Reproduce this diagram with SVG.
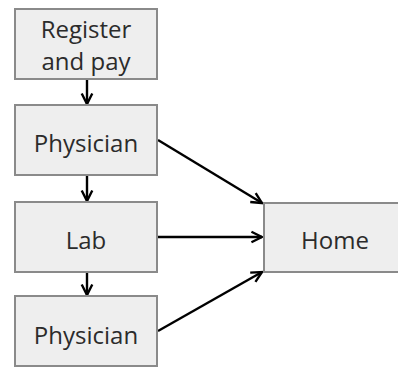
<svg xmlns="http://www.w3.org/2000/svg" width="398" height="367" viewBox="0 0 398 367">
  <style>
    .box { fill: #eeeeee; stroke: #8a8a8a; stroke-width: 2; }
    .lbl { font-family: "Open Sans", Lato, "Liberation Sans", sans-serif; font-size: 24px; fill: #2b2b2b; text-anchor: middle; }
    .edge { stroke: #000; stroke-width: 2.4; fill: none; marker-end: url(#arrow); }
  </style>
  <defs>
    <marker id="arrow" viewBox="0 0 10 10" refX="9" refY="5" markerWidth="5.5" markerHeight="5.5" markerUnits="strokeWidth" orient="auto">
      <path d="M1,1 L9,5 L1,9" fill="none" stroke="#000" stroke-width="1.8"/>
    </marker>
  </defs>

  <g id="connectors">
    <line class="edge" x1="87" y1="79" x2="87" y2="104"/>
    <line class="edge" x1="87" y1="175" x2="87" y2="201"/>
    <line class="edge" x1="87" y1="272" x2="87" y2="295"/>
    <line class="edge" x1="158" y1="140" x2="262" y2="203"/>
    <line class="edge" x1="158" y1="237" x2="262" y2="237"/>
    <line class="edge" x1="158" y1="331" x2="262" y2="272"/>
  </g>

  <g id="register">
    <rect class="box" x="15" y="9" width="142" height="70"/>
    <text class="lbl" x="86" y="38">Register</text>
    <text class="lbl" x="86" y="70">and pay</text>
  </g>
  <g id="physician1">
    <rect class="box" x="15" y="105" width="142" height="70"/>
    <text class="lbl" x="86" y="152">Physician</text>
  </g>
  <g id="lab">
    <rect class="box" x="15" y="202" width="142" height="70"/>
    <text class="lbl" x="86" y="249">Lab</text>
  </g>
  <g id="physician2">
    <rect class="box" x="15" y="296" width="142" height="70"/>
    <text class="lbl" x="86" y="344">Physician</text>
  </g>
  <g id="home">
    <rect class="box" x="264" y="203" width="142" height="69"/>
    <text class="lbl" x="335" y="249">Home</text>
  </g>
</svg>
